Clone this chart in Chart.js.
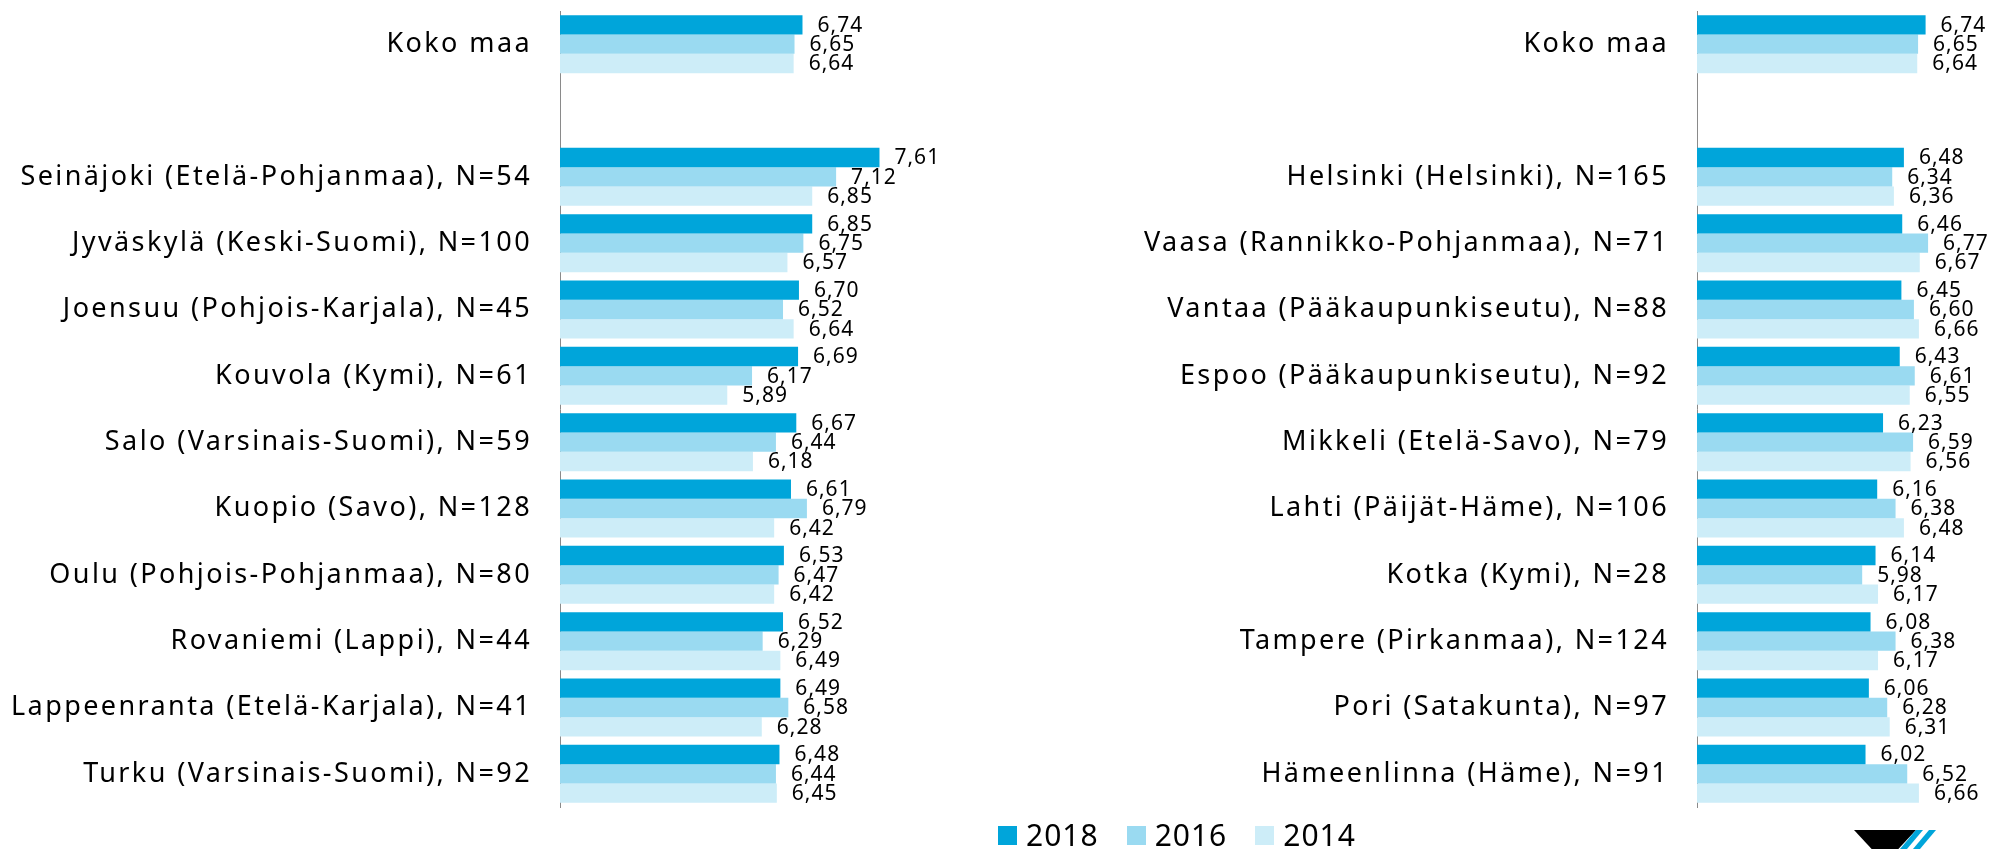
<!DOCTYPE html>
<html>
<head>
<meta charset="utf-8">
<script src="https://cdn.jsdelivr.net/npm/chart.js@4.4.1/dist/chart.umd.min.js"></script>
<style>
  html, body { margin: 0; padding: 0; background: #fff; }
  body { width: 1989px; height: 849px; position: relative; overflow: hidden; font-family: "Noto Sans", sans-serif; }
  canvas { position: absolute; top: 0; }
  #leftChart { left: 0; }
  #rightChart { left: 1000px; }
  #legend { position: absolute; left: 998px; top: 816px; display: flex; align-items: center; height: 38px; }
  #legend .item { display: flex; align-items: center; margin-right: 28px; }
  #legend .box { width: 19px; height: 19px; margin-right: 9px; }
  #legend .txt { font-size: 30px; letter-spacing: 1px; color: #000; line-height: 38px; }
  #logo { position: absolute; left: 1850px; top: 828px; }
</style>
</head>
<body>
<canvas id="leftChart" width="990" height="849"></canvas>
<canvas id="rightChart" width="989" height="849"></canvas>
<div id="legend"></div>
<svg id="logo" width="100" height="30" viewBox="0 0 100 30">
  <polygon points="4,2 66,2 40,30 30,30" fill="#000"/>
  <polygon points="66,2 73,2 57,21 50,21" fill="#00a5da"/>
  <polygon points="79,2 86,2 70,21 63,21" fill="#00a5da"/>
</svg>
<script>
const years = ["2018", "2016", "2014"];
const colors = ["#00a5da", "#9adaf1", "#cdedf8"];

const leftLabels = [
  "Koko maa", "",
  "Seinäjoki (Etelä-Pohjanmaa), N=54",
  "Jyväskylä (Keski-Suomi), N=100",
  "Joensuu (Pohjois-Karjala), N=45",
  "Kouvola (Kymi), N=61",
  "Salo (Varsinais-Suomi), N=59",
  "Kuopio (Savo), N=128",
  "Oulu (Pohjois-Pohjanmaa), N=80",
  "Rovaniemi (Lappi), N=44",
  "Lappeenranta (Etelä-Karjala), N=41",
  "Turku (Varsinais-Suomi), N=92"
];
const left2018 = [6.74, null, 7.61, 6.85, 6.70, 6.69, 6.67, 6.61, 6.53, 6.52, 6.49, 6.48];
const left2016 = [6.65, null, 7.12, 6.75, 6.52, 6.17, 6.44, 6.79, 6.47, 6.29, 6.58, 6.44];
const left2014 = [6.64, null, 6.85, 6.57, 6.64, 5.89, 6.18, 6.42, 6.42, 6.49, 6.28, 6.45];

const rightLabels = [
  "Koko maa", "",
  "Helsinki (Helsinki), N=165",
  "Vaasa (Rannikko-Pohjanmaa), N=71",
  "Vantaa (Pääkaupunkiseutu), N=88",
  "Espoo (Pääkaupunkiseutu), N=92",
  "Mikkeli (Etelä-Savo), N=79",
  "Lahti (Päijät-Häme), N=106",
  "Kotka (Kymi), N=28",
  "Tampere (Pirkanmaa), N=124",
  "Pori (Satakunta), N=97",
  "Hämeenlinna (Häme), N=91"
];
const right2018 = [6.74, null, 6.48, 6.46, 6.45, 6.43, 6.23, 6.16, 6.14, 6.08, 6.06, 6.02];
const right2016 = [6.65, null, 6.34, 6.77, 6.60, 6.61, 6.59, 6.38, 5.98, 6.38, 6.28, 6.52];
const right2014 = [6.64, null, 6.36, 6.67, 6.66, 6.55, 6.56, 6.48, 6.17, 6.17, 6.31, 6.66];

// pieni plugin: arvot palkin perään + kirjainväli
const valueLabels = {
  id: "valueLabels",
  beforeDraw(chart) {
    chart.ctx.letterSpacing = "2.4px";
  },
  afterDatasetsDraw(chart) {
    const ctx = chart.ctx;
    ctx.save();
    ctx.letterSpacing = "1px";
    ctx.font = '21px "Noto Sans"';
    ctx.fillStyle = "#000";
    ctx.textAlign = "left";
    ctx.textBaseline = "middle";
    chart.data.datasets.forEach((ds, i) => {
      chart.getDatasetMeta(i).data.forEach((bar, j) => {
        const v = ds.data[j];
        if (v == null) return;
        ctx.fillText(v.toFixed(2).replace(".", ","), bar.x + 15, bar.y + 1);
      });
    });
    ctx.restore();
    ctx.letterSpacing = "2.4px";
  }
};

function makeChart(id, labels, series, axisWidth, xMax, padRight) {
  return new Chart(document.getElementById(id), {
    type: "bar",
    data: {
      labels,
      datasets: series.map((d, i) => ({
        label: years[i],
        data: d,
        backgroundColor: colors[i],
        borderWidth: 0,
        categoryPercentage: 0.875,
        barPercentage: 1.0
      }))
    },
    options: {
      indexAxis: "y",
      responsive: false,
      animation: false,
      layout: { padding: { top: 11, bottom: 42, left: 0, right: padRight } },
      plugins: { legend: { display: false }, tooltip: { enabled: false } },
      scales: {
        x: { type: "linear", min: 4, max: xMax, display: false },
        y: {
          grid: { display: false, drawTicks: false },
          border: { display: true, color: "#8a8a8a", width: 1 },
          ticks: {
            autoSkip: false,
            padding: 28,
            color: "#000",
            font: { family: "Noto Sans", size: 27 }
          },
          afterFit(scale) {
            scale.width = axisWidth;
            scale.paddingTop = 0;
            scale.paddingBottom = 0;
          }
        }
      }
    },
    plugins: [valueLabels]
  });
}

makeChart("leftChart", leftLabels, [left2018, left2016, left2014], 560, 8, 76);
makeChart("rightChart", rightLabels, [right2018, right2016, right2014], 697, 7.5, 0);

const legend = document.getElementById("legend");
years.forEach((y, i) => {
  const item = document.createElement("div");
  item.className = "item";
  item.innerHTML = `<span class="box" style="background:${colors[i]}"></span><span class="txt">${y}</span>`;
  legend.appendChild(item);
});
</script>
</body>
</html>
